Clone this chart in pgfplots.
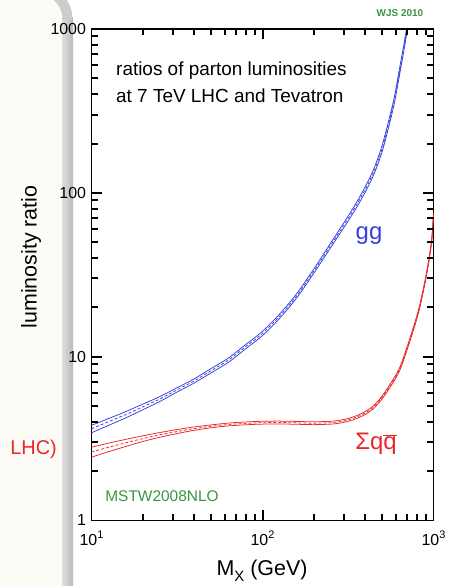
\documentclass[border=0pt]{standalone}
\usepackage{pgfplots}
\pgfplotsset{compat=1.18}
\usepackage{pgfplotstable}
\usepackage{fontspec}
\setmainfont{Liberation Sans}

\definecolor{ggblue}{RGB}{52,64,220}
\definecolor{qqred}{RGB}{234,38,42}
\definecolor{mstwgreen}{RGB}{58,150,62}
\definecolor{slidecream}{RGB}{253,251,246}

\newcommand{\supnum}[1]{\raisebox{0.42em}{\fontsize{11}{11}\selectfont #1}}

% gg luminosity ratio: central value and uncertainty band edges
\pgfplotstableread{
x      c      lo      hi
10     3.63   3.43    3.81
12.59  4.01   3.81    4.19
15.85  4.43   4.23    4.62
19.95  4.94   4.74    5.13
25.12  5.52   5.33    5.71
31.62  6.27   6.08    6.46
39.81  7.11   6.90    7.32
50.12  8.22   7.97    8.47
63.10  9.51   9.22    9.80
79.43  11.48  11.14   11.82
100    13.87  13.45   14.29
125.9  17.66  17.13   18.19
158.5  23.55  22.84   24.26
199.5  33.27  32.27   34.27
251.2  48.08  46.54   49.62
316.2  69.5   67.07   71.93
354.8  84.5   81.4    87.6
398.1  104.5  100.5   108.5
446.7  134.0  128.6   139.4
501.2  187.1  178.7   195.5
562.3  296.5  283.2   309.8
595.7  386.4  369.0   403.8
631.0  539.5  515.2   563.8
668.3  753    719     787
707.9  1076   1028    1124
794.3  2249   2148    2350
}\ggtable

% sum over q qbar luminosity ratio
\pgfplotstableread{
x      c      lo      hi
10     2.618  2.435   2.801
12.59  2.799  2.631   2.967
15.85  2.979  2.830   3.128
19.95  3.162  3.036   3.288
25.12  3.334  3.224   3.444
31.62  3.491  3.393   3.589
39.81  3.639  3.552   3.726
50.12  3.758  3.683   3.833
63.10  3.855  3.778   3.932
79.43  3.917  3.839   3.995
100    3.954  3.875   4.033
125.9  3.963  3.884   4.042
158.5  3.945  3.866   4.024
199.5  3.926  3.847   4.005
251.2  3.954  3.875   4.033
281.8  4.009  3.929   4.089
316.2  4.111  4.029   4.193
354.8  4.276  4.190   4.362
398.1  4.529  4.438   4.620
446.7  4.930  4.831   5.029
501.2  5.650  5.537   5.763
562.3  6.750  6.602   6.899
631.0  8.300  8.117   8.483
707.9  11.60  11.34   11.86
794.3  17.00  16.63   17.37
841.4  21.50  21.03   21.97
891.3  28.50  27.87   29.13
944.1  40.00  39.12   40.88
977.2  52.0   50.9    53.1
1000   74.0   72.4    75.6
}\qqtable

\begin{document}
\begin{tikzpicture}
\path[use as bounding box] (0bp,0bp) rectangle (458bp,586bp);

% slide background and shadowed edge on the left
\fill[slidecream] (0bp,0bp) rectangle (63bp,586bp);
\shade[left color=gray!25, right color=gray!55] (62bp,0bp) rectangle (73bp,568bp);
\draw[line width=10bp, gray!40] (67.5bp,566bp) .. controls (67.5bp,578bp) and (63bp,584bp) .. (55bp,592bp);

\node[anchor=east, text=qqred, font=\fontsize{20}{20}\selectfont, inner sep=0]
  at (57bp,137bp) {LHC)};

\begin{axis}[
  at={(91.5bp,65.5bp)}, anchor=south west,
  scale only axis, width=342bp, height=491.5bp,
  xmode=log, ymode=log,
  xmin=10, xmax=1000, ymin=1, ymax=1000,
  axis line style={line width=1.8bp},
  major tick length=0pt, minor tick length=0pt,
  xtick={10,100,1000},
  xticklabels={10\supnum{1},10\supnum{2},10\supnum{3}},
  ytick={1,10,100,1000},
  yticklabels={1,10,100,1000},
  tick label style={font=\fontsize{16}{16}\selectfont},
  xticklabel style={yshift=-7bp},
  yticklabel style={xshift=-2bp},
  clip=true,
]
  % gg band
  \addplot[ggblue, line width=0.75bp, smooth, tension=0.5] table[x=x,y=lo] {\ggtable};
  \addplot[ggblue, line width=0.75bp, smooth, tension=0.5] table[x=x,y=hi] {\ggtable};
  \addplot[ggblue, line width=0.75bp, smooth, tension=0.5, dash pattern=on 3bp off 2bp] table[x=x,y=c] {\ggtable};
  % q qbar band
  \addplot[qqred, line width=0.75bp, smooth, tension=0.5] table[x=x,y=lo] {\qqtable};
  \addplot[qqred, line width=0.75bp, smooth, tension=0.5] table[x=x,y=hi] {\qqtable};
  \addplot[qqred, line width=0.75bp, smooth, tension=0.5, dash pattern=on 3bp off 2bp] table[x=x,y=c] {\qqtable};
\end{axis}

% inward tick marks on all four sides of the frame, as small filled bars
% (frame: left 91.5bp, bottom 65.5bp, 171bp per x decade, 163.833bp per y decade)
\foreach \d in {0,1}{
  \foreach \v in {2,3,4,5,6,7,8,9}{
    \pgfmathsetmacro\xa{91.5+171*(\d+log10(\v))-1}
    \pgfmathsetmacro\xb{91.5+171*(\d+log10(\v))+1}
    \fill[black] (\xa bp,65bp) rectangle (\xb bp,72bp);
    \fill[black] (\xa bp,557.5bp) rectangle (\xb bp,550.5bp);
  }
}
\fill[black] (261.5bp,65bp) rectangle (263.5bp,76bp);
\fill[black] (261.5bp,557.5bp) rectangle (263.5bp,546.5bp);
\foreach \d in {0,1,2}{
  \foreach \v in {2,3,4,5,6,7,8,9}{
    \pgfmathsetmacro\ya{65.5+163.833*(\d+log10(\v))-1}
    \pgfmathsetmacro\yb{65.5+163.833*(\d+log10(\v))+1}
    \fill[black] (91bp,\ya bp) rectangle (98bp,\yb bp);
    \fill[black] (434bp,\ya bp) rectangle (427bp,\yb bp);
  }
}
\foreach \ya/\yb in {228.33/230.33,392.17/394.17}{
  \fill[black] (91bp,\ya bp) rectangle (102bp,\yb bp);
  \fill[black] (434bp,\ya bp) rectangle (423bp,\yb bp);
}

% annotations
\node[anchor=west, align=left, inner sep=0, font=\fontsize{19}{27}\selectfont]
  at (116bp,504bp) {ratios of parton luminosities\\at 7 TeV LHC and Tevatron};
\node[text=ggblue, font=\fontsize{24}{24}\selectfont, inner sep=0] at (369bp,350bp) {gg};
\node[text=qqred, font=\fontsize{24}{24}\selectfont, inner sep=0] at (376bp,142bp)
  {Σq\(\overline{\hbox{q}}\)};
\node[text=mstwgreen, font=\fontsize{15.5}{15.5}\selectfont, inner sep=0] at (162bp,90bp) {MSTW2008NLO};
\node[text=mstwgreen, font=\bfseries\fontsize{10}{10}\selectfont, inner sep=0] at (400bp,573bp) {WJS 2010};

% axis titles
\node[rotate=90, font=\fontsize{21.5}{21.5}\selectfont, inner sep=0] at (31bp,329bp) {luminosity ratio};
\node[font=\fontsize{21.5}{21.5}\selectfont, inner sep=0] at (262bp,15bp)
  {M\raisebox{-0.3em}{\fontsize{15}{15}\selectfont X} (GeV)};
\end{tikzpicture}
\end{document}
